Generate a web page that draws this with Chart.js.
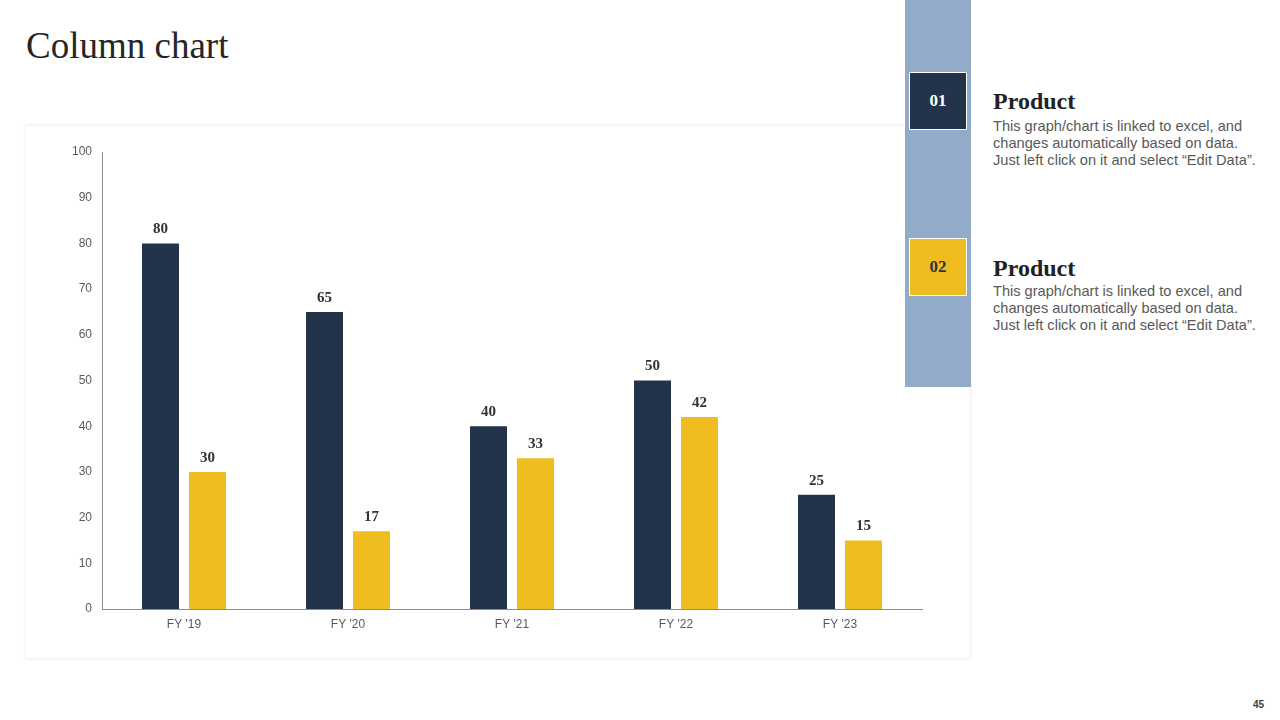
<!DOCTYPE html>
<html>
<head>
<meta charset="utf-8">
<script src="https://cdn.jsdelivr.net/npm/chart.js@4/dist/chart.umd.min.js"></script>
<style>
  html, body { margin:0; padding:0; background:#fff; }
  body { width:1280px; height:720px; position:relative; overflow:hidden; font-family:"Liberation Sans", Arial, sans-serif; }
  #title { position:absolute; left:26px; top:24px; font-family:"Liberation Serif", "Times New Roman", serif; font-size:37px; color:#262626; line-height:44px; white-space:nowrap; }
  #card { position:absolute; left:25px; top:125px; width:944px; height:532px; border:1px solid #f3f3f3; box-shadow:0 0 3px rgba(0,0,0,0.05); background:#fff; }
  #side { position:absolute; left:905px; top:0; width:66px; height:387px; background:#92abc8; }
  .box { position:absolute; left:909px; width:56px; height:56px; border:1px solid #fff; font-family:"Liberation Serif", serif; font-weight:bold; font-size:17px; display:flex; align-items:center; justify-content:center; }
  #b1 { top:72px; background:#22334a; color:#fff; }
  #b2 { top:238px; background:#f0bd21; color:#333; }
  .head { position:absolute; left:993px; font-family:"Liberation Serif", serif; font-weight:bold; font-size:24px; color:#222; line-height:28px; white-space:nowrap; }
  .desc { position:absolute; left:993px; font-size:14.6px; line-height:17px; color:#595959; white-space:nowrap; }
  #pg { position:absolute; left:1253px; top:699px; font-size:10px; font-weight:bold; color:#404040; }
  #chart { position:absolute; left:0; top:0; }
</style>
</head>
<body>
<div id="title">Column chart</div>
<div id="card"></div>
<div id="side"></div>
<div class="box" id="b1">01</div>
<div class="box" id="b2">02</div>
<div class="head" style="top:87px">Product</div>
<div class="desc" style="top:118px">This graph/chart is linked to excel, and<br>changes automatically based on data.<br>Just left click on it and select “Edit Data”.</div>
<div class="head" style="top:254px">Product</div>
<div class="desc" style="top:283px">This graph/chart is linked to excel, and<br>changes automatically based on data.<br>Just left click on it and select “Edit Data”.</div>
<div id="pg">45</div>
<canvas id="chart" width="1280" height="720"></canvas>
<script>
const categories = ["FY '19", "FY '20", "FY '21", "FY '22", "FY '23"];
const product1 = [80, 65, 40, 50, 25];
const product2 = [30, 17, 33, 42, 15];
const yTicks = [0, 10, 20, 30, 40, 50, 60, 70, 80, 90, 100];

const labelPlugin = {
  id: 'barLabels',
  afterDatasetsDraw(chart) {
    const ctx = chart.ctx;
    ctx.save();
    ctx.font = 'bold 15px "Liberation Serif", serif';
    ctx.fillStyle = '#333333';
    ctx.textAlign = 'center';
    ctx.textBaseline = 'middle';
    chart.data.datasets.forEach((ds, i) => {
      const meta = chart.getDatasetMeta(i);
      meta.data.forEach((el, j) => {
        ctx.fillText(String(ds.data[j]), el.x, el.y - 14);
      });
    });
    ctx.restore();
  }
};

new Chart(document.getElementById('chart'), {
  type: 'bar',
  data: {
    labels: categories,
    datasets: [
      { label: 'Product 01', data: product1, backgroundColor: '#22334a', categoryPercentage: 0.573, barPercentage: 0.787 },
      { label: 'Product 02', data: product2, backgroundColor: '#f0bd21', categoryPercentage: 0.573, barPercentage: 0.787 }
    ]
  },
  options: {
    responsive: false,
    animation: false,
    events: [],
    layout: { padding: { left: 62, right: 358, top: 152, bottom: 81 } },
    plugins: { legend: { display: false }, tooltip: { enabled: false } },
    scales: {
      x: {
        grid: { display: false, drawTicks: false },
        border: { display: true, color: '#8c8c8c', width: 1 },
        ticks: { color: '#595959', font: { family: '"Liberation Sans", Arial, sans-serif', size: 12 }, padding: 8 },
        afterFit(axis) { axis.height = 30; }
      },
      y: {
        min: 0, max: 100,
        grid: { display: false, drawTicks: false },
        border: { display: true, color: '#8c8c8c', width: 1 },
        afterBuildTicks(axis) { axis.ticks = yTicks.map(v => ({ value: v })); },
        ticks: { color: '#595959', font: { family: '"Liberation Sans", Arial, sans-serif', size: 12 }, padding: 10 },
        afterFit(axis) { axis.width = 40; }
      }
    }
  },
  plugins: [labelPlugin]
});
</script>
</body>
</html>
